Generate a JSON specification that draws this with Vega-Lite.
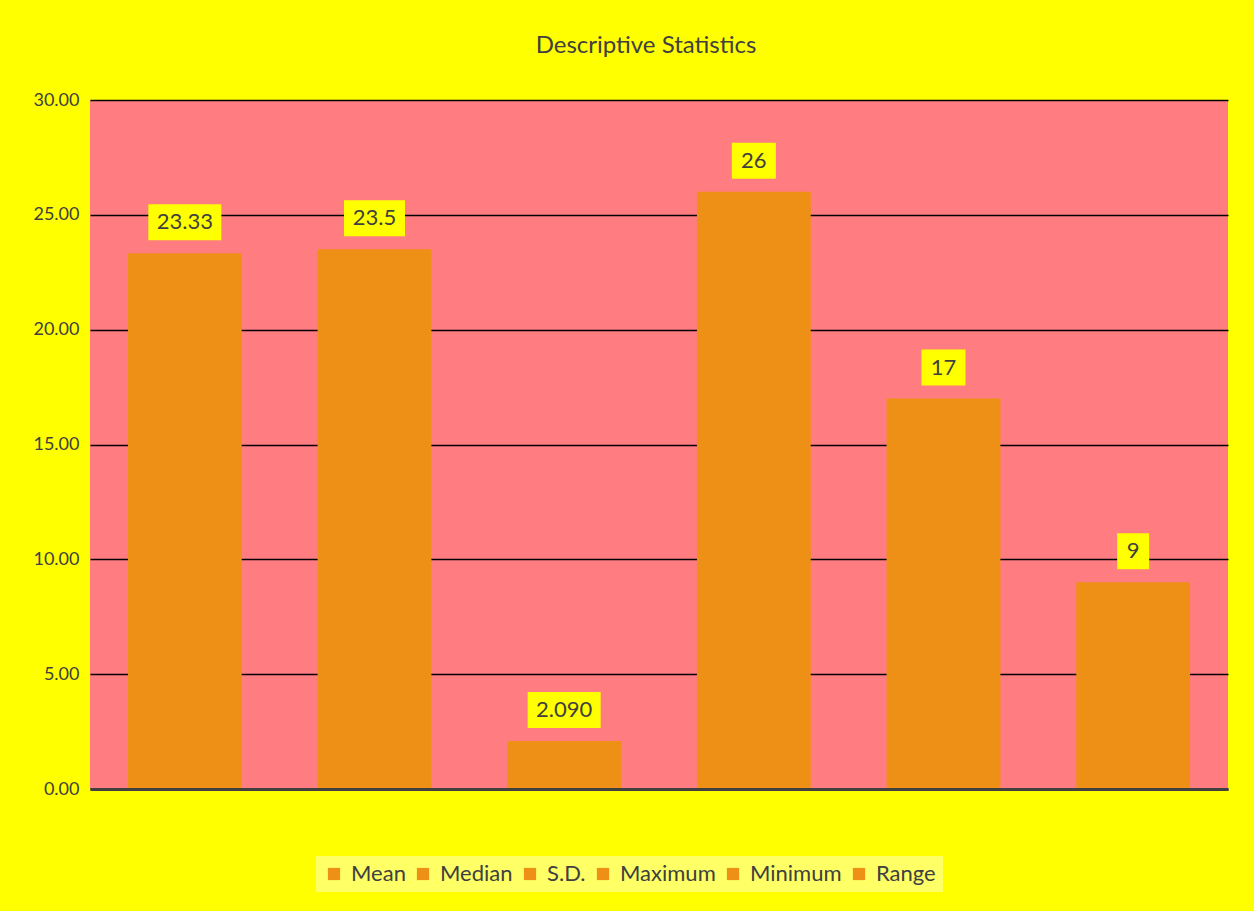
{
  "$schema": "https://vega.github.io/schema/vega-lite/v6.json",
  "width": 1138,
  "height": 689,
  "autosize": {"type": "none"},
  "padding": {"left": 90, "top": 100, "right": 26, "bottom": 122},
  "background": "#FFFF00",
  "title": {
    "text": "Descriptive  Statistics",
    "fontSize": 24,
    "font": "Lato",
    "fontWeight": "normal",
    "color": "#404040",
    "offset": 33,
    "dx": -13
  },
  "data": {
    "values": [
      {"stat": "Mean", "value": 23.33, "label": "23.33"},
      {"stat": "Median", "value": 23.5, "label": "23.5"},
      {"stat": "S.D.", "value": 2.09, "label": "2.090"},
      {"stat": "Maximum", "value": 26, "label": "26"},
      {"stat": "Minimum", "value": 17, "label": "17"},
      {"stat": "Range", "value": 9, "label": "9"}
    ]
  },
  "encoding": {
    "x": {
      "field": "stat",
      "type": "nominal",
      "sort": null,
      "scale": {"paddingInner": 0.4, "paddingOuter": 0.2},
      "axis": {
        "title": null,
        "labels": false,
        "ticks": false,
        "domainColor": "#404040",
        "domainWidth": 3,
        "zindex": 1
      }
    },
    "y": {
      "field": "value",
      "type": "quantitative",
      "scale": {"domain": [0, 30], "nice": false},
      "axis": {
        "title": null,
        "values": [0, 5, 10, 15, 20, 25, 30],
        "format": ".2f",
        "labelFont": "Lato",
        "labelFontSize": 18,
        "labelColor": "#404040",
        "labelPadding": 11,
        "ticks": false,
        "domain": false,
        "gridColor": "#000000",
        "gridWidth": 1.5,
        "gridOpacity": 1
      }
    }
  },
  "layer": [
    {
      "mark": {"type": "bar"},
      "encoding": {
        "color": {
          "field": "stat",
          "type": "nominal",
          "sort": null,
          "scale": {
            "domain": ["Mean", "Median", "S.D.", "Maximum", "Minimum", "Range"],
            "range": ["#EE9015", "#EE9015", "#EE9015", "#EE9015", "#EE9015", "#EE9015"]
          },
          "legend": {
            "title": null,
            "orient": "none",
            "legendX": 226,
            "legendY": 756,
            "direction": "horizontal",
            "symbolType": "square",
            "symbolSize": 150,
            "symbolStrokeWidth": 0,
            "labelFont": "Lato",
            "labelFontSize": 22,
            "labelColor": "#404040",
            "columnPadding": 6,
            "labelOffset": 6,
            "fillColor": "#FFFF66",
            "padding": 7
          }
        }
      }
    },
    {
      "transform": [
        {"calculate": "length(replace(datum.label, '.', '')) * 12 + (indexof(datum.label, '.') >= 0 ? 5 : 0) + 20", "as": "boxw"},
        {"calculate": "datum.boxw * datum.boxw", "as": "boxsize"},
        {"calculate": "'M-1,' + (-36 / datum.boxw) + 'H1V' + (36 / datum.boxw) + 'H-1Z'", "as": "boxpath"}
      ],
      "mark": {"type": "point", "filled": true, "fill": "#FFFF00", "opacity": 1, "strokeWidth": 0, "yOffset": -31},
      "encoding": {
        "size": {"field": "boxsize", "type": "quantitative", "scale": null, "legend": null},
        "shape": {"field": "boxpath", "type": "nominal", "scale": null, "legend": null}
      }
    },
    {
      "mark": {
        "type": "text",
        "font": "Lato",
        "fontSize": 22,
        "color": "#404040",
        "baseline": "middle",
        "yOffset": -31
      },
      "encoding": {
        "text": {"field": "label"}
      }
    }
  ],
  "config": {
    "view": {"stroke": null, "fill": "#FF7C80"}
  }
}
